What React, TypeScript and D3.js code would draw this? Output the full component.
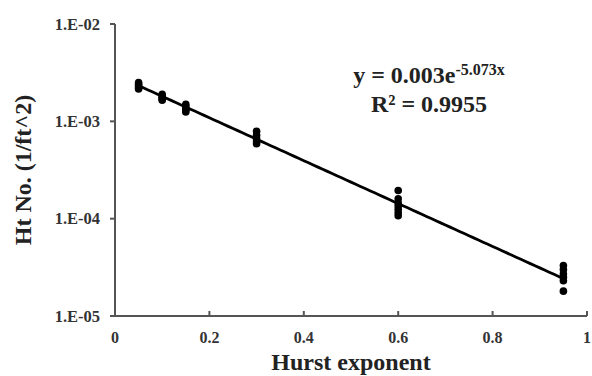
import { useMemo } from 'react'
import * as d3 from 'd3'

const W = 592
const H = 376
const margin = { left: 115, right: 4, top: 24, bottom: 60 }

// observed Ht numbers for each Hurst exponent
const hurstValues = [0.05, 0.1, 0.15, 0.3, 0.6, 0.95]
const htNumbers = [
    [2.5e-3, 2.4e-3, 2.3e-3, 2.2e-3, 2.15e-3],
    [1.9e-3, 1.82e-3, 1.75e-3, 1.7e-3, 1.65e-3],
    [1.5e-3, 1.42e-3, 1.35e-3, 1.3e-3, 1.25e-3],
    [7.9e-4, 7.2e-4, 6.6e-4, 6.2e-4, 5.9e-4],
    [1.95e-4, 1.6e-4, 1.45e-4, 1.35e-4, 1.25e-4, 1.15e-4, 1.07e-4],
    [3.3e-5, 3.0e-5, 2.7e-5, 2.5e-5, 2.3e-5, 1.8e-5]
]
const xTicks = [0, 0.2, 0.4, 0.6, 0.8, 1]
const xTickLabels = ['0', '0.2', '0.4', '0.6', '0.8', '1']
const yTicks = [1e-5, 1e-4, 1e-3, 1e-2]
const yTickLabels = ['1.E-05', '1.E-04', '1.E-03', '1.E-02']

// fitted trendline y = a * e^(b x)
const fitA = 0.003
const fitB = -5.073
const fitRange = [0.05, 0.95]

const font = '"Liberation Serif", "Times New Roman", serif'
const axisColor = '#555'

export default function App() {
    const x = useMemo(
        () => d3.scaleLinear().domain([0, 1]).range([margin.left, W - margin.right - 1]),
        []
    )
    const y = useMemo(
        () => d3.scaleLog().domain([1e-5, 1e-2]).range([H - margin.bottom, margin.top]),
        []
    )
    const points = hurstValues.flatMap((h, i) => htNumbers[i].map((v) => [h, v]))
    const fitPts = d3.range(fitRange[0], fitRange[1] + 1e-9, 0.01).map((t) => [t, fitA * Math.exp(fitB * t)])
    const line = d3.line<number[]>().x((d) => x(d[0])).y((d) => y(d[1]))
    const y0 = y(1e-5)

    return (
        <svg width={W} height={H} style={{ position: 'absolute', left: 0, top: 0 }}>
            <rect width={W} height={H} fill="#fff" />
            {/* axes */}
            <line x1={x(0)} x2={x(0)} y1={y(1e-2)} y2={y0} stroke={axisColor} strokeWidth={2} />
            <line x1={x(0) - 4} x2={x(1)} y1={y0} y2={y0} stroke={axisColor} strokeWidth={2} />
            {yTicks.map((t, i) => (
                <g key={t}>
                    <line x1={x(0) - 5} x2={x(0)} y1={y(t)} y2={y(t)} stroke={axisColor} strokeWidth={2} />
                    <text x={x(0) - 15} y={y(t) + 5.5} textAnchor="end" fontFamily={font} fontWeight="bold" fontSize={16.5} fill="#333">
                        {yTickLabels[i]}
                    </text>
                </g>
            ))}
            {xTicks.map((t, i) => (
                <g key={t}>
                    <line x1={x(t)} x2={x(t)} y1={y0 - 5} y2={y0} stroke={axisColor} strokeWidth={2} />
                    <text x={x(t)} y={y0 + 27} textAnchor="middle" fontFamily={font} fontWeight="bold" fontSize={16} fill="#333">
                        {xTickLabels[i]}
                    </text>
                </g>
            ))}
            {/* data */}
            {points.map((p, i) => (
                <circle key={i} cx={x(p[0])} cy={y(p[1])} r={3.8} fill="#000" />
            ))}
            <path d={line(fitPts) ?? ''} fill="none" stroke="#000" strokeWidth={2.8} />
            {/* equation */}
            <text x={429} y={83} textAnchor="middle" fontFamily={font} fontWeight="bold" fontSize={24} fill="#222">
                y = 0.003e<tspan fontSize={16} dy={-8}>-5.073x</tspan>
            </text>
            <text x={429} y={112} textAnchor="middle" fontFamily={font} fontWeight="bold" fontSize={24} fill="#222">
                R² = 0.9955
            </text>
            {/* axis titles */}
            <text x={(x(0) + x(1)) / 2} y={370} textAnchor="middle" fontFamily={font} fontWeight="bold" fontSize={24} fill="#222">
                Hurst exponent
            </text>
            <text transform={`translate(31, ${(y(1e-2) + y0) / 2}) rotate(-90)`} textAnchor="middle" fontFamily={font} fontWeight="bold" fontSize={24} fill="#222">
                Ht No. (1/ft^2)
            </text>
        </svg>
    )
}
